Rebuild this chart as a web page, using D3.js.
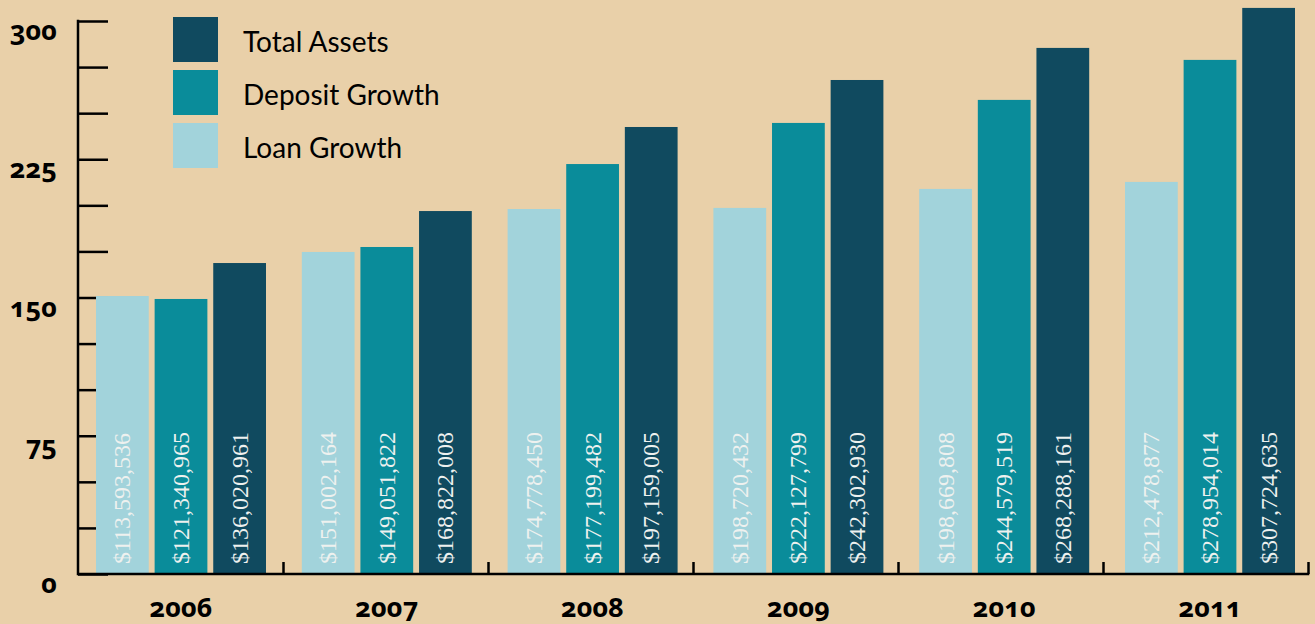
<!DOCTYPE html>
<html>
<head>
<meta charset="utf-8">
<script src="https://cdn.jsdelivr.net/npm/d3@7"></script>
<style>
  html, body { margin: 0; padding: 0; background: #E9D0A9; }
  svg { display: block; }
</style>
</head>
<body>
<svg id="chart" width="1315" height="624"></svg>
<script>
// ---- data ----
const years = ["2006", "2007", "2008", "2009", "2010", "2011"];
const seriesNames = ["Loan Growth", "Deposit Growth", "Total Assets"];
// bar heights as drawn in the picture (millions, read against the y axis)
const loanValues    = [150.8, 174.7, 198.0, 198.6, 208.9, 212.7];
const depositValues = [149.2, 177.4, 222.4, 244.7, 257.2, 278.9];
const totalValues   = [168.7, 196.9, 242.5, 268.0, 285.4, 307.1];
// labels printed inside the bars
const loanLabels    = ["$113,593,536", "$151,002,164", "$174,778,450", "$198,720,432", "$198,669,808", "$212,478,877"];
const depositLabels = ["$121,340,965", "$149,051,822", "$177,199,482", "$222,127,799", "$244,579,519", "$278,954,014"];
const totalLabels   = ["$136,020,961", "$168,822,008", "$197,159,005", "$242,302,930", "$268,288,161", "$307,724,635"];
const yTickLabels = [0, 75, 150, 225, 300];
const yMinorTicks = d3.range(0, 301, 25);
const legendOrder = ["Total Assets", "Deposit Growth", "Loan Growth"];

const colors = {
  "Loan Growth": "#A2D3DB",
  "Deposit Growth": "#0A8C9A",
  "Total Assets": "#104A5F"
};

const seriesValues = { "Loan Growth": loanValues, "Deposit Growth": depositValues, "Total Assets": totalValues };
const seriesLabels = { "Loan Growth": loanLabels, "Deposit Growth": depositLabels, "Total Assets": totalLabels };

const numFont = "'Noto Sans', Lato, sans-serif";

const svg = d3.select("#chart");

const x0 = d3.scaleBand().domain(years).range([78, 1313]).paddingInner(0.174).paddingOuter(0.0875);
const x1 = d3.scaleBand().domain(seriesNames).range([0, x0.bandwidth()]).paddingInner(0.1);
const y = d3.scaleLinear().domain([0, 300]).range([574, 21]);
const xb = d3.scaleLinear().domain([0, years.length]).range([78, 1308]);

// ---- y axis (ticks to the right, behind bars) ----
const yAxis = svg.append("g")
  .attr("transform", "translate(78,0)")
  .call(d3.axisRight(y).tickValues(yMinorTicks).tickSize(30).tickFormat(""));
yAxis.select(".domain").remove();
yAxis.selectAll(".tick line").attr("stroke", "#000").attr("stroke-width", 2.5);
svg.append("line")
  .attr("x1", 78).attr("x2", 78)
  .attr("y1", y(300) - 1.25).attr("y2", y(0) + 1.25)
  .attr("stroke", "#000").attr("stroke-width", 2.5);

svg.append("g").selectAll("text")
  .data(yTickLabels)
  .join("text")
  .attr("x", 57)
  .attr("y", d => y(d) + 19)
  .attr("text-anchor", "end")
  .style("font-family", numFont)
  .style("font-weight", "bold")
  .style("font-size", "27px")
  .style("font-variant-numeric", "oldstyle-nums")
  .style("font-feature-settings", "'onum' 1")
  .attr("fill", "#000")
  .text(d => d);

// ---- bars ----
const groups = svg.append("g").selectAll("g")
  .data(years)
  .join("g")
  .attr("transform", d => `translate(${x0(d)},0)`);

groups.selectAll("rect")
  .data((yr, i) => seriesNames.map(s => ({ s, v: seriesValues[s][i] })))
  .join("rect")
  .attr("x", d => x1(d.s))
  .attr("width", x1.bandwidth())
  .attr("y", d => y(d.v))
  .attr("height", d => y(0) - y(d.v))
  .attr("fill", d => colors[d.s]);

groups.selectAll("text")
  .data((yr, i) => seriesNames.map(s => ({ s, label: seriesLabels[s][i] })))
  .join("text")
  .attr("transform", d => `translate(${x1(d.s) + x1.bandwidth() / 2},${y(0) - 10}) rotate(-90)`)
  .attr("dy", "0.33em")
  .attr("text-anchor", "start")
  .style("font-family", "'Liberation Serif', 'DejaVu Serif', serif")
  .style("font-size", "24px")
  .style("font-variant-numeric", "oldstyle-nums")
  .attr("fill", "#EEF1EF")
  .text(d => d.label);

// ---- x axis ----
const xAxis = svg.append("g")
  .attr("transform", `translate(0,${y(0)})`)
  .call(d3.axisBottom(xb).tickValues(d3.range(1, years.length + 1)).tickSize(-12).tickFormat("").tickSizeOuter(0));
xAxis.select(".domain").remove();
xAxis.selectAll(".tick line").attr("stroke", "#000").attr("stroke-width", 2.5);
svg.append("line")
  .attr("x1", 78).attr("x2", 1309.25)
  .attr("y1", y(0)).attr("y2", y(0))
  .attr("stroke", "#000").attr("stroke-width", 2.5);

const xLabels = svg.append("g")
  .attr("transform", `translate(0,${y(0)})`)
  .call(d3.axisBottom(x0).tickSize(0).tickPadding(0));
xLabels.select(".domain").remove();
xLabels.selectAll("text")
  .attr("dy", null)
  .attr("y", 43)
  .attr("fill", "#000")
  .style("font-family", numFont)
  .style("font-weight", "bold")
  .style("font-size", "27px")
  .style("font-variant-numeric", "oldstyle-nums")
  .style("font-feature-settings", "'onum' 1");

// ---- legend ----
const legend = svg.append("g").selectAll("g")
  .data(legendOrder)
  .join("g")
  .attr("transform", (d, i) => `translate(173,${17 + i * 53})`);
legend.append("rect")
  .attr("width", 45).attr("height", 45)
  .attr("fill", d => colors[d]);
legend.append("text")
  .attr("x", 70).attr("y", 35)
  .style("font-family", "Lato, 'Open Sans', sans-serif")
  .style("font-size", "28px")
  .attr("fill", "#000")
  .text(d => d);
</script>
</body>
</html>
